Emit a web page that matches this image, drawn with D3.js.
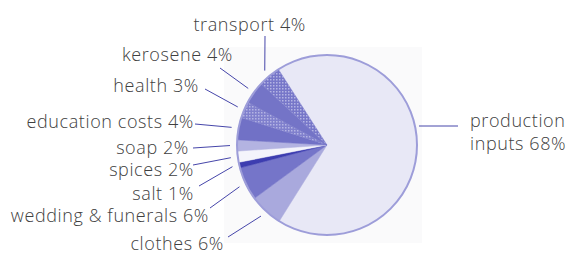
<!DOCTYPE html>
<html>
<head>
<meta charset="utf-8">
<script src="https://cdn.jsdelivr.net/npm/d3@7"></script>
<style>
  body { margin: 0; background: #fff; }
  text { font-family: "Open Sans", "Lato", sans-serif; font-weight: 300; fill: #404040; letter-spacing: 0.6px; }
</style>
</head>
<body>
<div id="chart"></div>
<script>
// data, clockwise from the top of the pie
const categories = ["production inputs", "clothes", "wedding & funerals", "salt", "spices",
                    "soap", "education costs", "health", "kerosene", "transport"];
const shares = [68, 6, 6, 1, 2, 2, 4, 3, 4, 4];

// slice looks
const fills = ["#e8e8f6", "#a9a9dd", "#7575c9", "#3d3db0", "#f4f4fb",
               "#b3b3e1", "#7171c6", "url(#dots2)", "#7474c7", "url(#dots1)"];

// label layout: text end x, baseline y, leader outer end
const labelPos = [
  null,
  { x: 224, y: 250, lx: 228, ly: 237 },
  { x: 209, y: 222, lx: 210, ly: 208 },
  { x: 194, y: 200, lx: 199, ly: 186 },
  { x: 194, y: 176, lx: 193, ly: 165 },
  { x: 189, y: 154, lx: 193, ly: 148 },
  { x: 194, y: 128, lx: 195, ly: 124 },
  { x: 199, y: 92, lx: 205, ly: 89 },
  { x: 233, y: 61, lx: 220, ly: 68 },
  { x: 306, y: 31, lx: 265, ly: 36 }
];

const W = 566, H = 255;
const cx = 327, cy = 145, r = 90;

const svg = d3.select("#chart").append("svg")
  .attr("width", W)
  .attr("height", H);

const defs = svg.append("defs");
function dots(id, base) {
  const p = defs.append("pattern")
    .attr("id", id)
    .attr("width", 3).attr("height", 3)
    .attr("patternUnits", "userSpaceOnUse");
  p.append("rect").attr("width", 3).attr("height", 3).attr("fill", base);
  p.append("rect").attr("x", 0).attr("y", 0).attr("width", 1.5).attr("height", 1.5)
    .attr("fill", "#b4b4e4");
}
dots("dots1", "#7777c9");
dots("dots2", "#8080cd");

// faint backdrop behind the pie
svg.append("rect")
  .attr("x", 224).attr("y", 47)
  .attr("width", 198).attr("height", 196)
  .attr("fill", "#fafafb");

const pie = d3.pie()
  .sort(null)
  .value(d => d)
  .startAngle(-0.571)
  .endAngle(-0.571 + 2 * Math.PI);

const arc = d3.arc().innerRadius(0).outerRadius(r);
const arcs = pie(shares);

const g = svg.append("g").attr("transform", `translate(${cx},${cy})`);
g.selectAll("path")
  .data(arcs)
  .enter()
  .append("path")
  .attr("d", arc)
  .attr("fill", (d, i) => fills[i])
  .attr("stroke", (d, i) => i === 0 ? "none" : fills[i].startsWith("url") ? "#7b7bcb" : fills[i])
  .attr("stroke-width", 0.5);

// outline
g.append("circle")
  .attr("r", r)
  .attr("fill", "none")
  .attr("stroke", "#9d9dd9")
  .attr("stroke-width", 2);

// leader lines and labels on the left
const labelArc = d3.arc().innerRadius(97).outerRadius(97);
arcs.forEach((d, i) => {
  const lp = labelPos[i];
  if (!lp) return;
  const c = labelArc.centroid(d);
  svg.append("line")
    .attr("x1", lp.lx).attr("y1", lp.ly)
    .attr("x2", cx + c[0]).attr("y2", cy + c[1])
    .attr("stroke", "#4646aa")
    .attr("stroke-width", 1);
  svg.append("text")
    .attr("x", lp.x).attr("y", lp.y)
    .attr("text-anchor", "end")
    .attr("font-size", 18)
    .text(`${categories[i]} ${shares[i]}%`);
});

// production inputs label on the right
const py = 126;
const edgeX = cx + Math.sqrt(r * r - (py - cy) * (py - cy)) + 4;
svg.append("line")
  .attr("x1", edgeX).attr("y1", py)
  .attr("x2", 458).attr("y2", py)
  .attr("stroke", "#4646aa")
  .attr("stroke-width", 1);
const words = categories[0].split(" ");
const t = svg.append("text").attr("x", 470).attr("y", 127).attr("font-size", 18);
t.append("tspan").attr("x", 470).text(words[0]);
t.append("tspan").attr("x", 470).attr("dy", 23).text(`${words[1]} ${shares[0]}%`);
</script>
</body>
</html>
